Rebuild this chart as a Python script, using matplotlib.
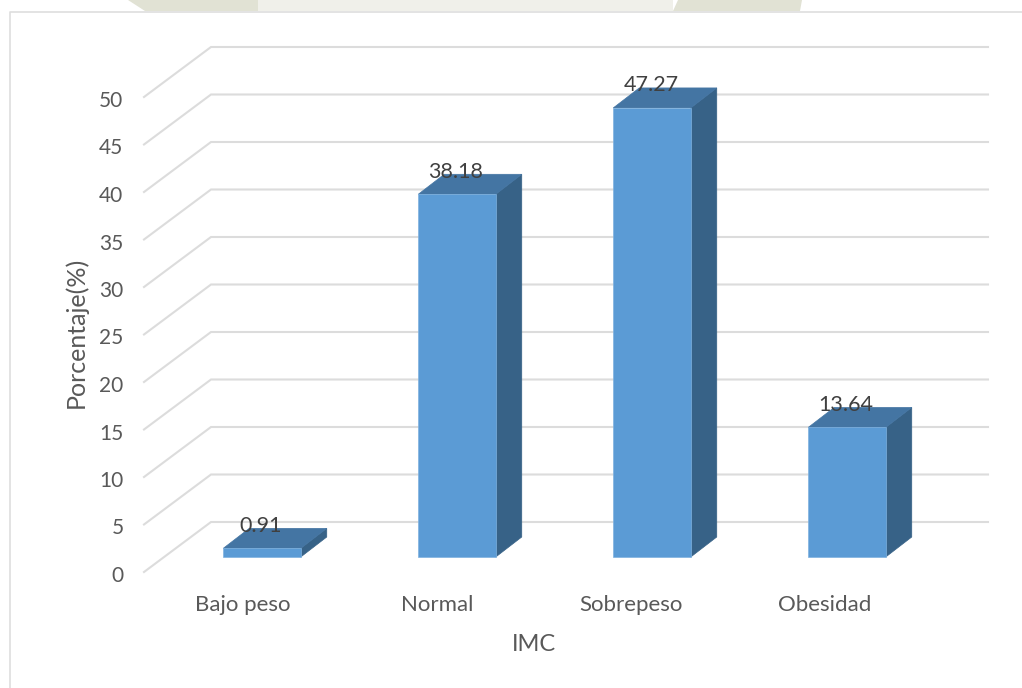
import matplotlib
matplotlib.use("Agg")
import matplotlib.pyplot as plt
from matplotlib.patches import Polygon, Rectangle

# Data
categorias = ['Bajo peso', 'Normal', 'Sobrepeso', 'Obesidad']
porcentajes = [0.91, 38.18, 47.27, 13.64]
etiquetas = ['0.91', '38.18', '47.27', '13.64']
ticks_y = [0, 5, 10, 15, 20, 25, 30, 35, 40, 45, 50]

W, H = 1022, 688
PX_X = 195.0   # pixels per category
PX_Y = 9.5     # pixels per percent
X0 = 262.0     # pixel of first bar centre
Y0 = 557.0     # pixel of value 0 at the bar front


def dx(px):
    return px / PX_X


def dy(px):
    return px / PX_Y


def col(px):
    return (px - X0) / PX_X


def val(px):
    return (Y0 - px) / PX_Y


plt.rcParams['font.family'] = ['Lato', 'DejaVu Sans']

fig = plt.figure(figsize=(W / 100, H / 100), dpi=100)
ax = fig.add_axes([0, 0, 1, 1])
ax.set_xlim(col(0), col(W))
ax.set_ylim(val(H), val(0))
ax.axis('off')

# Watermark remains above the frame
ax.add_patch(Rectangle((col(258), val(11)), dx(415), dy(11), fc='#f0f0ea', ec='none', zorder=0))
ax.add_patch(Polygon([(col(128), val(0)), (col(258), val(0)), (col(258), val(11)), (col(145), val(11))],
                     fc='#e1e2d4', ec='none', zorder=0))
ax.add_patch(Polygon([(col(678), val(0)), (col(802), val(0)), (col(800), val(11)), (col(673), val(11))],
                     fc='#e1e2d4', ec='none', zorder=0))

# Outer frame (left and top only)
ax.plot([col(9.5), col(9.5), col(W)], [val(H), val(11.5), val(11.5)], color='#dedede', lw=1.2, zorder=1)

# Grid: from the front plane to the back wall, then across
for t in ticks_y:
    y_front = t - dy(15)
    y_back = t + dy(35)
    ax.plot([col(144), col(211), col(988)], [y_front, y_back, y_back],
            color='#dcdcdc', lw=1.5, zorder=1, solid_joinstyle='miter')
    ax.text(col(123.5), y_front - dy(10), str(t), ha='right', va='baseline', fontsize=15, color='#595959')

# Bars
ancho = 77.5 / PX_X
prof_x = dx(26)
prof_y = dy(20)
for i, v in enumerate(porcentajes):
    izq = i - ancho / 2
    der = i + ancho / 2
    ax.add_patch(Polygon([(der, 0), (der + prof_x, prof_y), (der + prof_x, v + prof_y), (der, v)],
                         fc='#376287', ec='#376287', lw=0.5, zorder=2))
    ax.add_patch(Polygon([(izq, v), (der, v), (der + prof_x, v + prof_y), (izq + prof_x, v + prof_y)],
                         fc='#4475a3', ec='#4475a3', lw=0.5, zorder=2))
    ax.bar(i, v, width=ancho, color='#5b9bd5', edgecolor='#7fb2e0', linewidth=0.5, zorder=3)
    ax.text(i - dx(1), v + dy(16.5), etiquetas[i], ha='center', va='baseline',
            fontsize=15.5, color='#404040', zorder=4)

# Category labels, slightly tighter spacing than the bars
for i, c in enumerate(categorias):
    ax.text(i - dx(19 + i), val(611), c, ha='center', va='baseline', fontsize=16, color='#595959')

ax.text(col(534), val(651), 'IMC', ha='center', va='baseline', fontsize=17, color='#595959')
ax.text(col(76), val(332), 'Porcentaje(%)', ha='center', va='center', rotation=90,
        fontsize=18, color='#595959')

fig.savefig('out.png', dpi=100)
